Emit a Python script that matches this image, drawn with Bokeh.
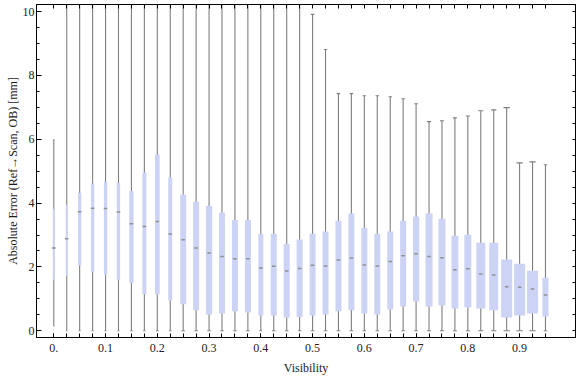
from bokeh.plotting import figure
from bokeh.models import FixedTicker, LinearAxis, Range1d, ColumnDataSource
from bokeh.embed import file_html
from bokeh.resources import INLINE

# ---- data ----
visibility = [0.0, 0.025, 0.05, 0.075, 0.1, 0.125, 0.15, 0.175, 0.2, 0.225,
              0.25, 0.275, 0.3, 0.325, 0.35, 0.375, 0.4, 0.425, 0.45, 0.475,
              0.5, 0.525, 0.55, 0.575, 0.6, 0.625, 0.65, 0.675, 0.7, 0.725,
              0.75, 0.775, 0.8, 0.825, 0.85, 0.875, 0.9, 0.925, 0.95]
whisker_low = [0.15, 0.0, 0.0, 0.0, 0.0, 0.0, 0.0, 0.0, 0.0, 0.0,
               0.0, 0.0, 0.0, 0.0, 0.0, 0.0, 0.0, 0.0, 0.0, 0.0,
               0.0, 0.0, 0.0, 0.0, 0.0, 0.0, 0.0, 0.0, 0.0, 0.0,
               0.0, 0.0, 0.0, 0.0, 0.0, 0.0, 0.0, 0.0, 0.0]
q1 = [1.60, 1.72, 2.05, 1.83, 1.74, 1.59, 1.49, 1.15, 1.14, 0.95,
      0.83, 0.64, 0.51, 0.54, 0.61, 0.57, 0.48, 0.48, 0.42, 0.43,
      0.48, 0.51, 0.61, 0.64, 0.54, 0.51, 0.67, 0.76, 0.92, 0.76,
      0.79, 0.70, 0.73, 0.70, 0.64, 0.42, 0.48, 0.54, 0.45]
median = [2.59, 2.88, 3.73, 3.84, 3.83, 3.72, 3.35, 3.27, 3.42, 3.03,
          2.85, 2.59, 2.44, 2.33, 2.26, 2.26, 1.97, 2.02, 1.87, 1.95,
          2.05, 2.03, 2.22, 2.28, 2.06, 2.03, 2.17, 2.35, 2.41, 2.33,
          2.29, 1.91, 1.94, 1.78, 1.75, 1.38, 1.36, 1.31, 1.12]
q3 = [3.82, 3.95, 4.32, 4.61, 4.67, 4.63, 4.38, 4.95, 5.52, 4.80,
      4.27, 4.04, 3.91, 3.70, 3.47, 3.47, 3.03, 3.03, 2.72, 2.86,
      3.04, 3.11, 3.45, 3.67, 3.23, 3.04, 3.11, 3.45, 3.58, 3.67,
      3.51, 2.98, 3.01, 2.76, 2.76, 2.23, 2.10, 1.88, 1.66]
# boxes 1..19 have upper whiskers beyond the visible range (clipped at the frame)
whisker_high = [5.98, 11.0, 11.0, 11.0, 11.0, 11.0, 11.0, 11.0, 11.0, 11.0,
                11.0, 11.0, 11.0, 11.0, 11.0, 11.0, 11.0, 11.0, 11.0, 11.0,
                9.91, 8.81, 7.43, 7.43, 7.36, 7.36, 7.33, 7.27, 7.11, 6.55,
                6.58, 6.67, 6.73, 6.89, 6.92, 6.99, 5.26, 5.29, 5.20]
# box widths vary per bin (in visibility units)
box_width = [0.0039, 0.0039, 0.0064, 0.0064, 0.0064, 0.0064, 0.0083, 0.0077, 0.0091, 0.0077,
             0.0116, 0.0116, 0.0122, 0.0116, 0.0116, 0.0116, 0.0097, 0.0116, 0.0116, 0.0116,
             0.0116, 0.0116, 0.0116, 0.0116, 0.0116, 0.0116, 0.0116, 0.0116, 0.0122, 0.0135,
             0.0135, 0.0135, 0.0135, 0.0174, 0.0174, 0.0213, 0.0213, 0.0213, 0.0116]
x_tick_values = [0.0, 0.1, 0.2, 0.3, 0.4, 0.5, 0.6, 0.7, 0.8, 0.9]
x_tick_labels = ["0.", "0.1", "0.2", "0.3", "0.4", "0.5", "0.6", "0.7", "0.8", "0.9"]
y_tick_values = [0, 2, 4, 6, 8, 10]
y_minor_values = [i * 0.5 for i in range(21)]

cap_frac = 0.57
src = ColumnDataSource(dict(
    x=visibility, lo=whisker_low, q1=q1, med=median, q3=q3, hi=whisker_high, w=box_width,
    cl=[x - cap_frac * w / 2 for x, w in zip(visibility, box_width)],
    cr=[x + cap_frac * w / 2 for x, w in zip(visibility, box_width)],
))

FONT = "Liberation Serif"
p = figure(width=576, height=377, output_backend="svg", toolbar_location=None,
           x_range=Range1d(-0.0334, 1.008), y_range=Range1d(-0.21, 10.22),
           min_border_left=36, min_border_right=1, min_border_top=4, min_border_bottom=40)
p.xgrid.visible = False
p.ygrid.visible = False
p.outline_line_color = "black"
p.background_fill_color = "white"
p.border_fill_color = "white"

WHISK = "#7f7f7f"
p.segment(x0="x", y0="lo", x1="x", y1="hi", source=src, line_color=WHISK, line_width=1.1)
p.segment(x0="cl", y0="lo", x1="cr", y1="lo", source=src, line_color=WHISK, line_width=1.1)
p.segment(x0="cl", y0="hi", x1="cr", y1="hi", source=src, line_color=WHISK, line_width=1.1)
p.vbar(x="x", width="w", bottom="q1", top="q3", source=src,
       fill_color="#cdd3f5", line_color=None)
p.scatter(x="x", y="med", source=src, marker="dash", size=3.5,
          line_color="#8f8f8f", line_width=1.5)


def base_style(ax):
    ax.major_tick_out = 0
    ax.minor_tick_out = 0
    ax.axis_line_color = "black"
    ax.major_tick_line_color = "black"
    ax.minor_tick_line_color = "black"
    ax.major_label_text_font = FONT
    ax.major_label_text_font_size = "12px"
    ax.major_label_text_color = "#222222"
    ax.axis_label_text_font = FONT
    ax.axis_label_text_font_style = "normal"
    ax.axis_label_text_font_size = "12px"
    ax.axis_label_text_color = "#1a1a1a"


xax = p.xaxis[0]
base_style(xax)
xax.ticker = FixedTicker(ticks=x_tick_values, minor_ticks=visibility)
xax.major_tick_in = 4
xax.minor_tick_in = 4
xax.major_label_overrides = dict(zip(x_tick_values, x_tick_labels))
xax.major_label_standoff = 6
xax.axis_label = "Visibility"
xax.axis_label_standoff = 6

yax = p.yaxis[0]
base_style(yax)
yax.ticker = FixedTicker(ticks=y_tick_values, minor_ticks=y_minor_values)
yax.major_tick_in = 5
yax.minor_tick_in = 3
yax.major_label_standoff = 2
yax.axis_label = "Absolute Error (Ref\u2192Scan, OB) [mm]"
yax.axis_label_standoff = 0

# mirror ticks (no labels): only minor ticks so that no label texts exist
top = LinearAxis(ticker=FixedTicker(ticks=[], minor_ticks=visibility))
base_style(top)
top.minor_tick_in = 4
top.major_label_standoff = 0
p.add_layout(top, "above")

right = LinearAxis(ticker=FixedTicker(ticks=[], minor_ticks=y_minor_values))
base_style(right)
right.minor_tick_in = 3
right.major_label_standoff = 0
p.add_layout(right, "right")

open("out.html", "w").write(file_html(p, INLINE))
